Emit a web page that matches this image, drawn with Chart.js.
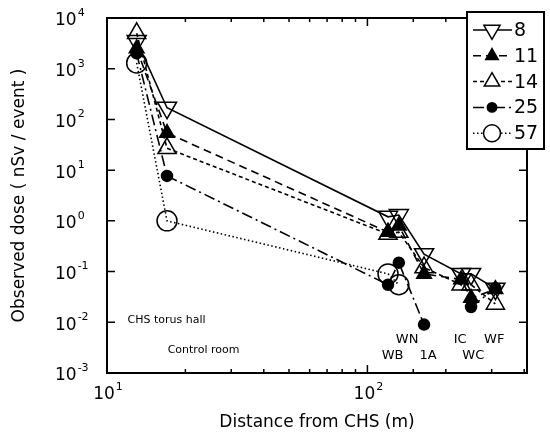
<!DOCTYPE html>
<html>
<head>
<meta charset="utf-8">
<script src="https://cdn.jsdelivr.net/npm/chart.js@4"></script>
<style>
  html, body { margin: 0; padding: 0; background: #fff; }
  #wrap { width: 550px; height: 438px; position: relative; }
</style>
</head>
<body>
<div id="wrap"><canvas id="chart"></canvas></div>
<script>
// measuring points: torus hall, control room, WB, WN, 1A, IC, WC, WF
const distance = [13, 17, 120, 132, 165, 229, 250, 310];

// observed dose per shot (nSv / event)
const shot8  = [3500, 170, 1.2, 1.3, 0.22, 0.09, 0.09, 0.046];
const shot11 = [2500, 54, 0.6, 0.8, 0.09, 0.07, 0.03, 0.045];
const shot14 = [5000, 27, 0.55, 0.6, 0.12, 0.055, 0.055, 0.023];
const shot25 = [2000, 7.7, 0.055, 0.15, 0.009, null, 0.02, 0.047];
const shot57 = [1300, 1.0, 0.09, 0.055, null, null, null, null];

const seriesNames = ['8', '11', '14', '25', '57'];

// place names written inside the plot (data coordinates)
const noteText = ['CHS torus hall', 'Control room', 'WN', 'WB', '1A', 'IC', 'WC', 'WF'];
const noteX = [12.0, 17.1, 142, 125, 171, 227, 255, 307];
const noteY = [0.011, 0.0028, 0.0045, 0.00225, 0.00225, 0.0045, 0.00225, 0.0045];

const FONT = '"DejaVu Sans", sans-serif';

function pts(vals) {
  return distance.map((x, i) => ({ x: x, y: vals[i] }));
}

function series(name, vals, dash, style, radius, rot, fillCol) {
  return {
    label: name,
    data: pts(vals),
    borderColor: '#000',
    borderWidth: 1.6,
    borderDash: dash,
    fill: false,
    tension: 0,
    spanGaps: false,
    pointStyle: style,
    pointRadius: radius,
    pointHoverRadius: radius,
    pointRotation: rot,
    pointBorderColor: '#000',
    pointBorderWidth: 1.5,
    pointBackgroundColor: fillCol
  };
}

const open = 'rgba(0,0,0,0)';
const datasets = [
  series(seriesNames[0], shot8, [], 'triangle', 11, 180, open),
  series(seriesNames[1], shot11, [8, 5], 'triangle', 8.5, 0, '#000'),
  series(seriesNames[2], shot14, [4, 3], 'triangle', 10.5, 0, open),
  series(seriesNames[3], shot25, [11, 4, 2, 4], 'circle', 5.5, 0, '#000'),
  series(seriesNames[4], shot57, [1.5, 2.5], 'circle', 10, 0, open)
];

function isPow10(v) {
  const l = Math.log10(v);
  return Math.abs(l - Math.round(l)) < 1e-9;
}

// frame, inward ticks and 10^n labels
const axesDeco = {
  id: 'axesDeco',
  afterDraw(chart) {
    const ctx = chart.ctx;
    const a = chart.chartArea;
    const xs = chart.scales.x, ys = chart.scales.y;
    ctx.save();
    ctx.strokeStyle = '#000';
    ctx.fillStyle = '#000';
    ctx.lineWidth = 2;
    ctx.strokeRect(a.left, a.top, a.right - a.left, a.bottom - a.top);

    ctx.lineWidth = 1.5;
    xs.ticks.forEach(t => {
      if (t.value <= xs.min || t.value >= xs.max) return;
      const px = xs.getPixelForValue(t.value);
      const len = isPow10(t.value) ? 8 : 4;
      ctx.beginPath();
      ctx.moveTo(px, a.bottom); ctx.lineTo(px, a.bottom - len);
      ctx.moveTo(px, a.top); ctx.lineTo(px, a.top + len);
      ctx.stroke();
    });
    ys.ticks.forEach(t => {
      if (!isPow10(t.value) || t.value <= ys.min || t.value >= ys.max) return;
      const py = ys.getPixelForValue(t.value);
      ctx.beginPath();
      ctx.moveTo(a.left, py); ctx.lineTo(a.left + 8, py);
      ctx.moveTo(a.right, py); ctx.lineTo(a.right - 8, py);
      ctx.stroke();
    });

    ctx.textBaseline = 'middle';
    ys.ticks.forEach(t => {
      if (!isPow10(t.value)) return;
      const py = ys.getPixelForValue(t.value);
      const e = String(Math.round(Math.log10(t.value)));
      ctx.textAlign = 'left';
      ctx.font = '17px ' + FONT;
      ctx.fillText('10', 55, py + 3);
      const w = ctx.measureText('10').width;
      ctx.font = '11px ' + FONT;
      ctx.fillText(e, 55 + w + 1, py - 5);
    });
    xs.ticks.forEach(t => {
      if (!isPow10(t.value)) return;
      const px = xs.getPixelForValue(t.value);
      const e = String(Math.round(Math.log10(t.value)));
      ctx.font = '17px ' + FONT;
      const w = ctx.measureText('10').width;
      ctx.font = '11px ' + FONT;
      const we = ctx.measureText(e).width;
      const x0 = px + 1 - (w + we + 1) / 2;
      ctx.textAlign = 'left';
      ctx.font = '17px ' + FONT;
      ctx.fillText('10', x0, a.bottom + 22);
      ctx.font = '11px ' + FONT;
      ctx.fillText(e, x0 + w + 1, a.bottom + 14);
    });

    // place names
    noteText.forEach((txt, i) => {
      const px = xs.getPixelForValue(noteX[i]);
      const py = ys.getPixelForValue(noteY[i]);
      ctx.font = (i < 2 ? '11px ' : '13px ') + FONT;
      ctx.textAlign = i < 2 ? 'left' : 'center';
      ctx.fillText(txt, px, py);
    });
    ctx.restore();
  }
};

// boxed legend in the top right corner
const legendBox = {
  id: 'legendBox',
  afterDraw(chart) {
    const ctx = chart.ctx;
    const x0 = 467, y0 = 12, w = 77, rowH = 25.8;
    const n = chart.data.datasets.length;
    ctx.save();
    ctx.fillStyle = '#fff';
    ctx.fillRect(x0, y0, w, rowH * n + 8);
    ctx.strokeStyle = '#000';
    ctx.lineWidth = 2;
    ctx.strokeRect(x0, y0, w, rowH * n + 8);
    chart.data.datasets.forEach((ds, i) => {
      const y = y0 + 18 + i * rowH;
      ctx.strokeStyle = '#000';
      ctx.lineWidth = 1.5;
      ctx.setLineDash(ds.borderDash);
      ctx.beginPath();
      ctx.moveTo(473, y); ctx.lineTo(512, y);
      ctx.stroke();
      ctx.setLineDash([]);
      ctx.fillStyle = ds.pointBackgroundColor === open ? '#fff' : '#000';
      Chart.helpers.drawPoint(ctx, {
        pointStyle: ds.pointStyle,
        radius: ds.pointRadius * 0.85,
        rotation: ds.pointRotation,
        borderWidth: 1.5
      }, 492, y);
      ctx.fillStyle = '#000';
      ctx.font = '19px ' + FONT;
      ctx.textAlign = 'left';
      ctx.textBaseline = 'middle';
      ctx.fillText(ds.label, 514, y + 1);
    });
    ctx.restore();
  }
};

new Chart(document.getElementById('chart'), {
  type: 'line',
  data: { datasets: datasets },
  plugins: [axesDeco, legendBox],
  options: {
    responsive: true,
    maintainAspectRatio: false,
    animation: false,
    events: [],
    layout: { padding: { top: 18, right: 23, left: 0, bottom: 0 } },
    plugins: {
      legend: { display: false },
      tooltip: { enabled: false }
    },
    scales: {
      x: {
        type: 'logarithmic',
        min: 10,
        max: 410,
        grid: { display: false, drawTicks: false },
        border: { display: false },
        ticks: { display: false },
        title: {
          display: true,
          text: 'Distance from CHS (m)',
          color: '#000',
          font: { family: FONT, size: 17 },
          padding: { top: 0, bottom: 5 }
        },
        afterFit: s => { s.height = 65; }
      },
      y: {
        type: 'logarithmic',
        min: 0.001,
        max: 10000,
        grid: { display: false, drawTicks: false },
        border: { display: false },
        ticks: { display: false },
        title: {
          display: true,
          text: 'Observed dose ( nSv / event )',
          color: '#000',
          font: { family: FONT, size: 17 },
          padding: { top: 9, bottom: 0 }
        },
        afterFit: s => { s.width = 107; }
      }
    }
  }
});
</script>
</body>
</html>
